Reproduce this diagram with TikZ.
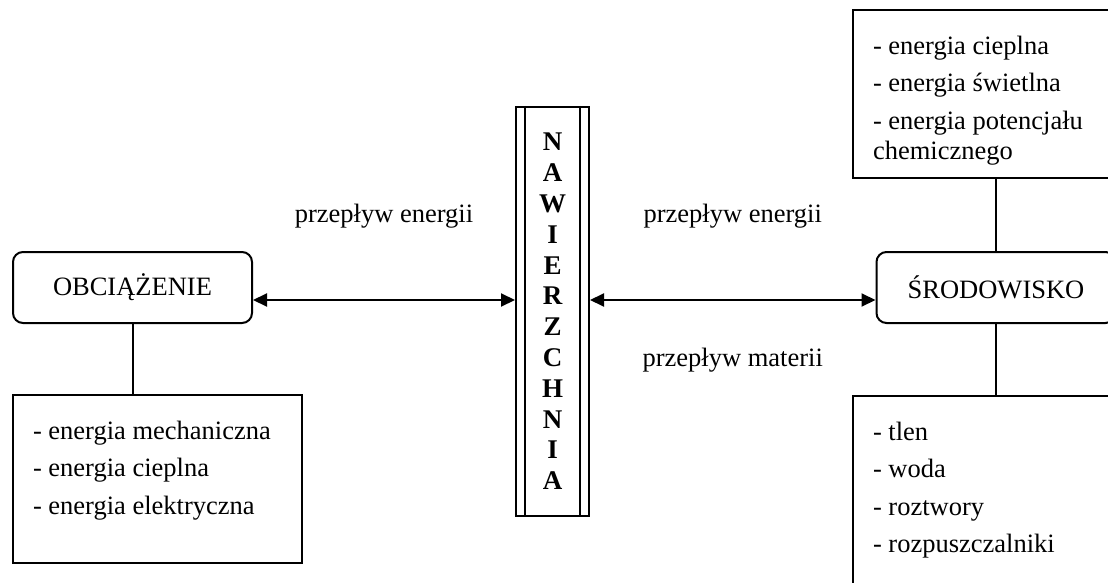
\documentclass[tikz,border=0pt]{standalone}
\usepackage{fontspec}
\setmainfont{Liberation Serif}
\usetikzlibrary{positioning,arrows.meta}

\begin{document}
\begin{tikzpicture}[x=0.5pt,y=-0.5pt,
		font=\fontsize{13.25pt}{15pt}\selectfont,
		line width=1pt,
		>={Triangle[length=7pt,width=6.5pt]},
		rbox/.style={draw,rounded corners=5pt,minimum width=119.5pt,minimum height=35.5pt},
		lbox/.style={draw,minimum width=144.5pt,minimum height=84pt},
		ltext/.style={align=left,inner sep=0pt}]
			\path[use as bounding box] (0,0) rectangle (1108,583);
			\clip (0,0) rectangle (1108,583);
			\node (obc) [rbox] at (132.5,287.5) {OBCIĄŻENIE};
			\node (srod) [rbox] at (996,287.5) {ŚRODOWISKO};
			\node (surf) [draw,minimum width=36.5pt,minimum height=204.5pt,align=center,
				font=\bfseries\fontsize{13.5pt}{15.4pt}\selectfont] at (552.5,311.5)
				{N\\A\\W\\I\\E\\R\\Z\\C\\H\\N\\I\\A};
			\draw[line width=0.8pt] ([xshift=5pt]surf.north west) -- ([xshift=5pt]surf.south west);
			\draw[line width=0.8pt] ([xshift=-5pt]surf.north east) -- ([xshift=-5pt]surf.south east);
			\node (obclist) [lbox] at (157.5,479) {};
			\node (envtop) [lbox] at (997.5,94) {};
			\node (envbot) [lbox,minimum height=102pt] at (997.5,498) {};
			\node (obctext) [ltext,below right=13pt and 10pt of obclist.north west]
				{- energia mechaniczna\\[3.75pt]- energia cieplna\\[3.75pt]- energia elektryczna};
			\node (toptext) [ltext,below right=13pt and 10pt of envtop.north west]
				{- energia cieplna\\[3.75pt]- energia świetlna\\[3.75pt]- energia potencjału\\chemicznego};
			\node (bottext) [ltext,below right=13pt and 10pt of envbot.north west]
				{- tlen\\[3.75pt]- woda\\[3.75pt]- roztwory\\[3.75pt]- rozpuszczalniki};
			\draw (obc.south) -- (obc.south |- obclist.north);
			\draw (srod.north) -- (srod.north |- envtop.south);
			\draw (srod.south) -- (srod.south |- envbot.north);
			\coordinate (lport) at ([yshift=-6.25pt]obc.east);
			\coordinate (rport) at ([yshift=-6.25pt]srod.west);
			\path[<->]
			(lport) edge node (lflow) [above=32pt] {przepływ energii} (lport -| surf.west)
			(rport -| surf.east) edge node (rflow) [above=32pt] {przepływ energii}
				node (mflow) [below=20pt] {przepływ materii} (rport);
		\end{tikzpicture}
\end{document}
